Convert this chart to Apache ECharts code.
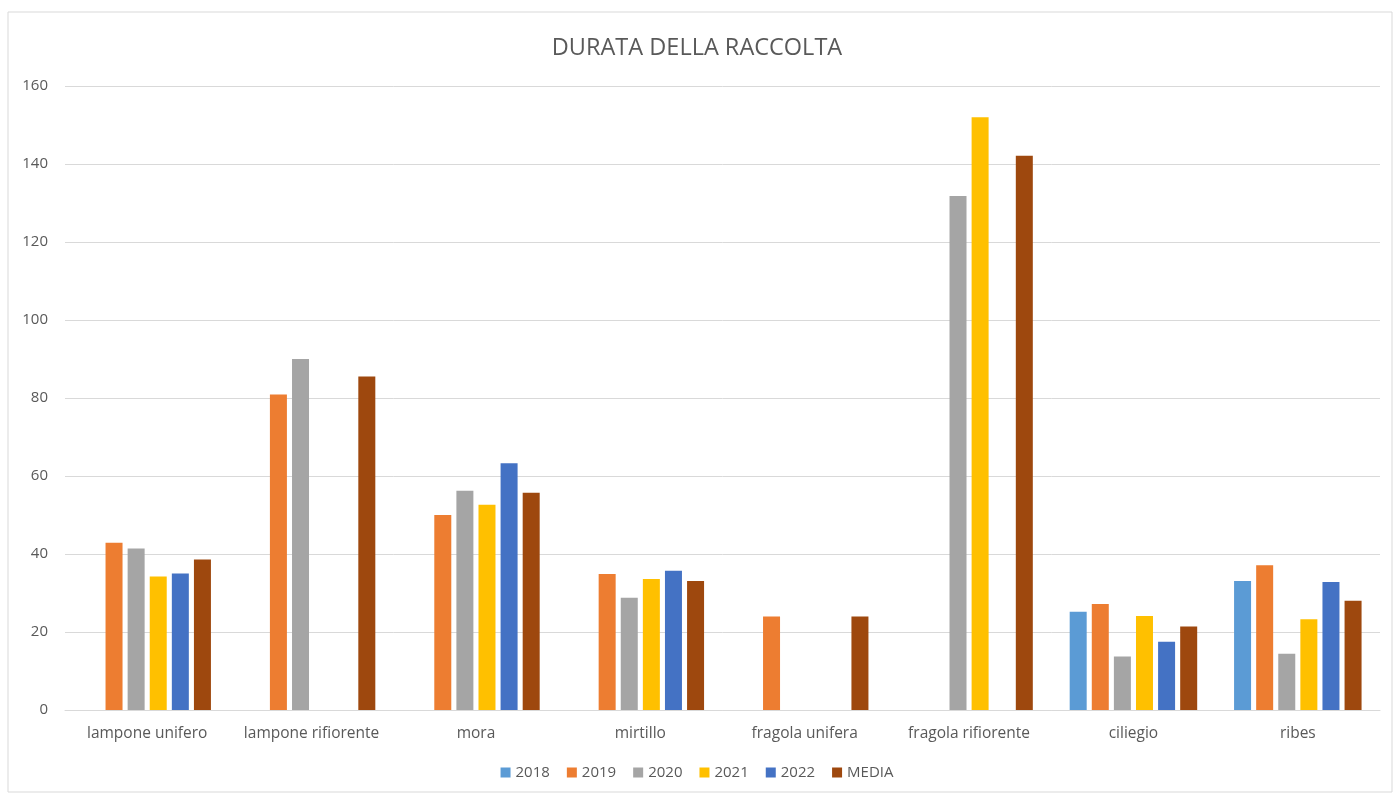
<!DOCTYPE html>
<html><head><meta charset="utf-8">
<script src="https://cdn.jsdelivr.net/npm/echarts@6/dist/echarts.min.js"></script>
<style>html,body{margin:0;padding:0;background:#fff}#c{width:1394px;height:796px}</style>
</head><body><div id="c"></div>
<script>
const categories = ['lampone unifero','lampone rifiorente','mora','mirtillo','fragola unifera','fragola rifiorente','ciliegio','ribes'];
const seriesNames = ['2018','2019','2020','2021','2022','MEDIA'];
const v2018 = [null, null, null, null, null, null, 25.2, 33.1];
const v2019 = [42.9, 80.9, 50.0, 34.9, 24.0, null, 27.2, 37.1];
const v2020 = [41.4, 90.0, 56.2, 28.8, null, 131.8, 13.7, 14.4];
const v2021 = [34.2, null, 52.6, 33.6, null, 152.0, 24.1, 23.3];
const v2022 = [35.0, null, 63.3, 35.7, null, null, 17.5, 32.8];
const vMedia = [38.6, 85.5, 55.7, 33.1, 24.0, 142.1, 21.4, 28.0];
const yTicks = [0, 20, 40, 60, 80, 100, 120, 140, 160];
const colors = ['#5B9BD5','#ED7D31','#A5A5A5','#FFC000','#4472C4','#9E480E'];
const allValues = [v2018, v2019, v2020, v2021, v2022, vMedia];
const FONT = 'Open Sans';
const chart = echarts.init(document.getElementById('c'));
chart.setOption({
  backgroundColor: '#fff',
  animation: false,
  color: colors,
  title: {
    text: 'DURATA DELLA RACCOLTA', left: 'center', top: 31,
    textStyle: {fontFamily: FONT, fontSize: 23.5, fontWeight: 'normal', color: '#595959'}
  },
  graphic: [{type: 'rect', shape: {x: 8, y: 12, width: 1384, height: 780}, style: {fill: 'none', stroke: '#d9d9d9', lineWidth: 1}, silent: true}],
  legend: {
    data: seriesNames, bottom: 11, left: 'center', itemWidth: 10, itemHeight: 10, itemGap: 17,
    icon: 'rect',
    textStyle: {fontFamily: FONT, fontSize: 15, color: '#595959'}
  },
  grid: {left: 65, right: 14, top: 86, bottom: 86},
  xAxis: {
    type: 'category', data: categories,
    axisLine: {lineStyle: {color: '#d9d9d9'}},
    axisTick: {show: false},
    axisLabel: {interval: 0, fontFamily: FONT, fontSize: 15.5, color: '#595959', margin: 16}
  },
  yAxis: {
    type: 'value', min: yTicks[0], max: yTicks[yTicks.length-1], interval: 20,
    axisLine: {show: false}, axisTick: {show: false},
    splitLine: {lineStyle: {color: '#d9d9d9'}},
    axisLabel: {fontFamily: FONT, fontSize: 15, color: '#595959', margin: 17}
  },
  series: seriesNames.map((n, i) => ({
    name: n, type: 'bar', data: allValues[i], barWidth: 17, barGap: '30%'
  }))
});
</script></body></html>
